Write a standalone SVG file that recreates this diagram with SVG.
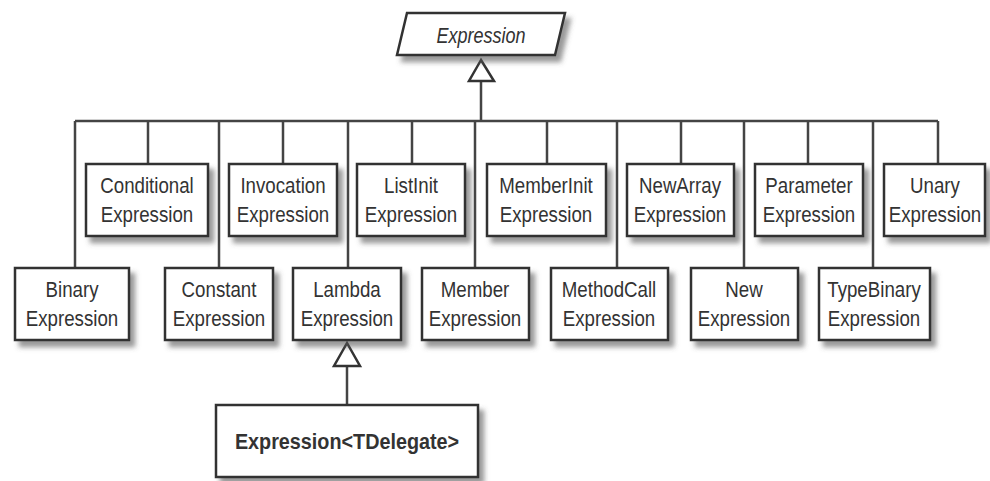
<svg xmlns="http://www.w3.org/2000/svg" width="990" height="481" viewBox="0 0 990 481">
<defs>
<filter id="sh" x="-20%" y="-20%" width="150%" height="160%">
<feDropShadow dx="5" dy="6" stdDeviation="2.5" flood-color="#555" flood-opacity="0.6"/>
</filter>
<style>
.box{fill:#fff;stroke:#333;stroke-width:2.5;filter:url(#sh)}
.ln{fill:none;stroke:#444;stroke-width:2.5}
.tri{fill:#fff;stroke:#333;stroke-width:2.5}
text{font-family:"Liberation Sans",Arial,sans-serif;font-size:22px;fill:#333;text-anchor:middle}
.it{font-style:italic}
.b{font-weight:bold}
</style>
</defs>
<rect width="990" height="481" fill="#fff"/>
<g id="connectors">
<path class="ln" d="M481 81V121M75 121H938"/>
<path class="ln" d="M75 121V268M148 121V164M219 121V268M283 121V164M348 121V268M412 121V164M475 121V268M547 121V164M617 121V268M681 121V164M744 121V268M808 121V164M873 121V268M938 121V164"/>
<polygon class="tri" points="481,60 469,81 494,81"/>
<path class="ln" d="M347 366V405"/>
<polygon class="tri" points="347,343 334,366 360,366"/>
</g>
<g id="expression">
<polygon class="box" points="407,13 565,13 555,55 397,55"/>
<text class="it" transform="translate(481,43) scale(0.82,1)">Expression</text>
</g>
<g id="conditional"><rect class="box" x="86" y="164" width="122" height="72"/><text transform="translate(147,193) scale(0.85,1)">Conditional</text><text transform="translate(147,222) scale(0.85,1)">Expression</text></g>
<g id="invocation"><rect class="box" x="229" y="164" width="108" height="72"/><text transform="translate(283,193) scale(0.85,1)">Invocation</text><text transform="translate(283,222) scale(0.85,1)">Expression</text></g>
<g id="listinit"><rect class="box" x="357" y="164" width="108" height="72"/><text transform="translate(411,193) scale(0.85,1)">ListInit</text><text transform="translate(411,222) scale(0.85,1)">Expression</text></g>
<g id="memberinit"><rect class="box" x="487" y="164" width="119" height="72"/><text transform="translate(546,193) scale(0.85,1)">MemberInit</text><text transform="translate(546,222) scale(0.85,1)">Expression</text></g>
<g id="newarray"><rect class="box" x="627" y="164" width="107" height="72"/><text transform="translate(680,193) scale(0.85,1)">NewArray</text><text transform="translate(680,222) scale(0.85,1)">Expression</text></g>
<g id="parameter"><rect class="box" x="755" y="164" width="108" height="72"/><text transform="translate(809,193) scale(0.85,1)">Parameter</text><text transform="translate(809,222) scale(0.85,1)">Expression</text></g>
<g id="unary"><rect class="box" x="884" y="164" width="101" height="72"/><text transform="translate(935,193) scale(0.85,1)">Unary</text><text transform="translate(935,222) scale(0.85,1)">Expression</text></g>
<g id="binary"><rect class="box" x="15" y="268" width="114" height="72"/><text transform="translate(72,297) scale(0.85,1)">Binary</text><text transform="translate(72,326) scale(0.85,1)">Expression</text></g>
<g id="constant"><rect class="box" x="165" y="268" width="108" height="72"/><text transform="translate(219,297) scale(0.85,1)">Constant</text><text transform="translate(219,326) scale(0.85,1)">Expression</text></g>
<g id="lambda"><rect class="box" x="293" y="268" width="108" height="72"/><text transform="translate(347,297) scale(0.85,1)">Lambda</text><text transform="translate(347,326) scale(0.85,1)">Expression</text></g>
<g id="member"><rect class="box" x="422" y="268" width="107" height="72"/><text transform="translate(475,297) scale(0.85,1)">Member</text><text transform="translate(475,326) scale(0.85,1)">Expression</text></g>
<g id="methodcall"><rect class="box" x="551" y="268" width="117" height="72"/><text transform="translate(609,297) scale(0.85,1)">MethodCall</text><text transform="translate(609,326) scale(0.85,1)">Expression</text></g>
<g id="new"><rect class="box" x="691" y="268" width="107" height="72"/><text transform="translate(744,297) scale(0.85,1)">New</text><text transform="translate(744,326) scale(0.85,1)">Expression</text></g>
<g id="typebinary"><rect class="box" x="819" y="268" width="111" height="72"/><text transform="translate(874,297) scale(0.85,1)">TypeBinary</text><text transform="translate(874,326) scale(0.85,1)">Expression</text></g>
<g id="expression-tdelegate"><rect class="box" x="216" y="405" width="262" height="72"/><text class="b" transform="translate(347,449) scale(0.9,1)">Expression&lt;TDelegate&gt;</text></g>
</svg>
